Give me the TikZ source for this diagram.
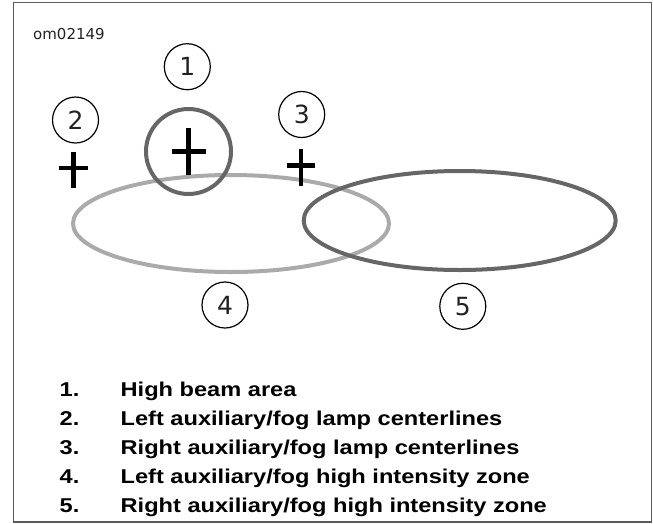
\documentclass[tikz,border=0pt]{standalone}
\usepackage{fontspec}
\usepackage{tikz}
\usetikzlibrary{calc,positioning}
\newfontfamily\calloutfont{DejaVu Sans}
\newfontfamily\legendfont[FakeStretch=1.18]{Liberation Sans}
\definecolor{framegray}{HTML}{5A5A5A}
\definecolor{darkzone}{HTML}{666666}
\definecolor{lightzone}{HTML}{AAAAAA}
\definecolor{inkgray}{HTML}{222222}

\begin{document}
\begin{tikzpicture}[x=1pt,y=-1pt,
    callout/.style={circle,draw=black,line width=1.2pt,minimum size=46pt,inner sep=0,
      text=inkgray,font=\calloutfont\fontsize{25}{30}\selectfont},
    crossline/.style={black,line width=4.5pt},
    legendnum/.style={anchor=base west,inner sep=0,font=\legendfont\bfseries\fontsize{20}{24}\selectfont},
    legendtxt/.style={anchor=base west,inner sep=0,font=\legendfont\bfseries\fontsize{20}{24}\selectfont}]
\useasboundingbox (0,0) rectangle (653,523);
%%%%%%%%%%%%%%%%%%%%%%%%%%%%
%%%%%%%%% Frame. %%%%%%%%%%%
%%%%%%%%%%%%%%%%%%%%%%%%%%%%
\draw[framegray,line width=1.5pt] (13.5,2.5) rectangle (651.5,522);
\node[anchor=base west,inner sep=0,text=inkgray,font=\calloutfont\fontsize{15}{18}\selectfont] (figid) at (33,39) {om02149};
%%%%%%%%%%%%%%%%%%%%%%%%%%%%
%%%%%%%%% Zones. %%%%%%%%%%%
%%%%%%%%%%%%%%%%%%%%%%%%%%%%
\draw[lightzone,line width=4pt] (231,223.5) ellipse [x radius=158pt, y radius=48.5pt];
\draw[darkzone,line width=4pt] (459.7,220.5) ellipse [x radius=156pt, y radius=49.5pt];
\draw[darkzone,line width=4pt] (188.5,151.5) circle [radius=42.5pt];
%%%%%%%%%%%%%%%%%%%%%%%%%%%%
%%%%%%%%% Centerlines. %%%%%
%%%%%%%%%%%%%%%%%%%%%%%%%%%%
\coordinate (beam) at (188.5,151.5);
\coordinate (leftlamp) at (73.5,169.5);
\coordinate (rightlamp) at (301,167.5);
\draw[crossline] ($(beam)+(-17,0)$) -- ($(beam)+(17,0)$);
\draw[crossline] ($(beam)+(0,-23.5)$) -- ($(beam)+(0,23.5)$);
\draw[crossline] ($(leftlamp)+(-14.5,-1.5)$) -- ($(leftlamp)+(14.5,-1.5)$);
\draw[crossline] ($(leftlamp)+(0,-18)$) -- ($(leftlamp)+(0,18)$);
\draw[crossline] ($(rightlamp)+(-14.2,-1.8)$) -- ($(rightlamp)+(14.2,-1.8)$);
\draw[crossline] ($(rightlamp)+(0,-18.3)$) -- ($(rightlamp)+(0,18.3)$);
%%%%%%%%%%%%%%%%%%%%%%%%%%%%
%%%%%%%%% Callouts. %%%%%%%%
%%%%%%%%%%%%%%%%%%%%%%%%%%%%
\node[callout] (num1) at (187.3,66.7) {1};
\node[callout] (num2) at (75.5,120) {2};
\node[callout] (num3) at (301.7,114.5) {3};
\node[callout] (num4) at (225,305) {4};
\node[callout] (num5) at (462.8,306.3) {5};
%%%%%%%%%%%%%%%%%%%%%%%%%%%%
%%%%%%%%% Legend. %%%%%%%%%%
%%%%%%%%%%%%%%%%%%%%%%%%%%%%
\node[legendnum] (key1) at (59.5,396.7) {1.};
\node[legendnum] (key2) at (59.5,425.7) {2.};
\node[legendnum] (key3) at (59.5,454.7) {3.};
\node[legendnum] (key4) at (59.5,483.7) {4.};
\node[legendnum] (key5) at (59.5,512.7) {5.};
\node[legendtxt] (txt1) at (120.5,396.7) {High beam area};
\node[legendtxt] (txt2) at (120.5,425.7) {Left auxiliary/fog lamp centerlines};
\node[legendtxt] (txt3) at (120.5,454.7) {Right auxiliary/fog lamp centerlines};
\node[legendtxt] (txt4) at (120.5,483.7) {Left auxiliary/fog high intensity zone};
\node[legendtxt] (txt5) at (120.5,512.7) {Right auxiliary/fog high intensity zone};
\end{tikzpicture}
\end{document}
